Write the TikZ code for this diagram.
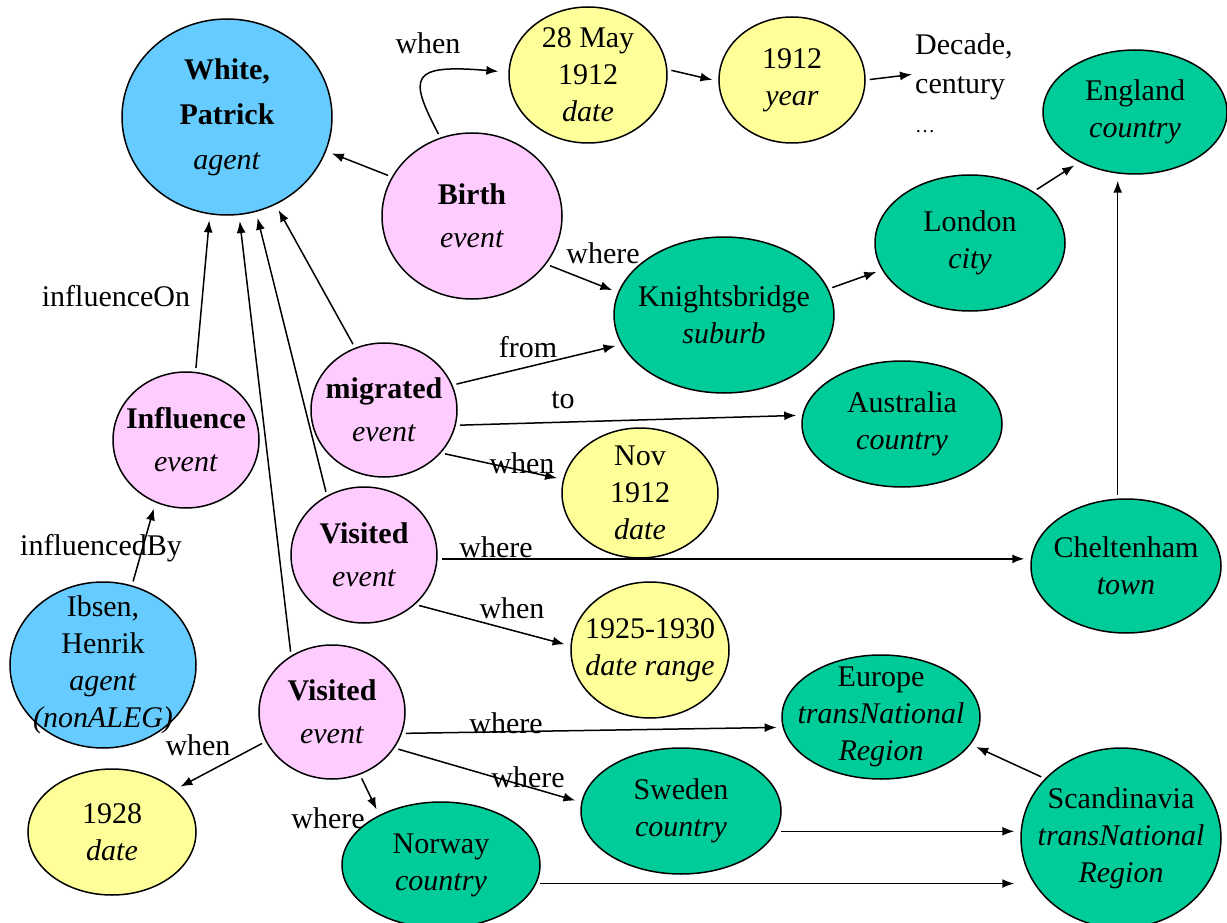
\documentclass[tikz,border=0pt]{standalone}
\usepackage{fontspec}
\setmainfont{Liberation Serif}
\usetikzlibrary{shapes.geometric,arrows.meta}
\definecolor{agentblue}{HTML}{66CCFF}
\definecolor{eventpink}{HTML}{FFCCFF}
\definecolor{dateyellow}{HTML}{FFFF99}
\definecolor{placegreen}{HTML}{00CC99}
\tikzset{
  blob/.style={ellipse,draw=black,line width=1.5pt,inner sep=-30pt,align=center,
    font=\fontsize{30}{37}\selectfont},
  agentnode/.style={blob,fill=agentblue},
  eventnode/.style={blob,fill=eventpink},
  datenode/.style={blob,fill=dateyellow},
  placenode/.style={blob,fill=placegreen},
  rel/.style={line width=1.5pt,-{Latex[length=12pt,width=9pt]},shorten <=4pt,shorten >=6pt},
  rellabel/.style={inner sep=1pt,font=\fontsize{30}{36}\selectfont}
}

\begin{document}
\begin{tikzpicture}[x=1pt,y=-1pt]
  \useasboundingbox[fill=white] (0,0) rectangle (1227,923);

  % people and events
  \node[agentnode,minimum width=210pt,minimum height=196pt] (white) at (227,117)
    {\textbf{White,}\\[8pt]\textbf{Patrick}\\[8pt]\textit{agent}};
  \node[eventnode,minimum width=180pt,minimum height=166pt] (birth) at (472,216)
    {\textbf{Birth}\\[6pt]\textit{event}};
  \node[eventnode,minimum width=146pt,minimum height=134pt] (migr) at (384,410)
    {\textbf{migrated}\\[6pt]\textit{event}};
  \node[eventnode,minimum width=146pt,minimum height=136pt] (influence) at (186,440)
    {\textbf{Influence}\\[6pt]\textit{event}};
  \node[eventnode,minimum width=146pt,minimum height=136pt] (visA) at (364,555)
    {\textbf{Visited}\\[6pt]\textit{event}};
  \node[eventnode,minimum width=146pt,minimum height=134pt] (visB) at (332,712)
    {\textbf{Visited}\\[6pt]\textit{event}};
  \node[agentnode,minimum width=186pt,minimum height=166pt] (ibsen) at (103,665)
    {Ibsen,\\Henrik\\\textit{agent}\\\textit{(nonALEG)}};

  % dates
  \node[datenode,minimum width=158pt,minimum height=136pt] (may) at (588,75)
    {28 May\\1912\\\textit{date}};
  \node[datenode,minimum width=146pt,minimum height=126pt] (year) at (792,80)
    {1912\\\textit{year}};
  \node[rellabel,anchor=west,align=left] (decade) at (914,83)
    {Decade,\\[3pt]century\\[3pt]{\fontsize{20}{24}\selectfont\ldots}};
  \node[datenode,minimum width=156pt,minimum height=130pt] (nov) at (640,493)
    {Nov\\1912\\\textit{date}};
  \node[datenode,minimum width=158pt,minimum height=136pt] (range) at (650,650)
    {1925-1930\\\textit{date range}};
  \node[datenode,minimum width=168pt,minimum height=126pt] (d1928) at (112,832)
    {1928\\\textit{date}};

  % places
  \node[placenode,minimum width=184pt,minimum height=124pt] (england) at (1135,112)
    {England\\\textit{country}};
  \node[placenode,minimum width=190pt,minimum height=136pt] (london) at (970,243)
    {London\\\textit{city}};
  \node[placenode,minimum width=220pt,minimum height=156pt] (knight) at (724,315)
    {Knightsbridge\\\textit{suburb}};
  \node[placenode,minimum width=200pt,minimum height=126pt] (austr) at (902,424)
    {Australia\\\textit{country}};
  \node[placenode,minimum width=190pt,minimum height=134pt] (chelt) at (1126,566)
    {Cheltenham\\\textit{town}};
  \node[placenode,minimum width=198pt,minimum height=124pt] (europe) at (881,717)
    {Europe\\\textit{transNational}\\\textit{Region}};
  \node[placenode,minimum width=200pt,minimum height=126pt] (sweden) at (681,811)
    {Sweden\\\textit{country}};
  \node[placenode,minimum width=198pt,minimum height=126pt] (norway) at (441,865)
    {Norway\\\textit{country}};
  \node[placenode,minimum width=200pt,minimum height=180pt] (scand) at (1121,838)
    {Scandinavia\\\textit{transNational}\\\textit{Region}};

  % relations
  \draw[rel] (birth.154) -- (white.-19);
  \draw[rel,shorten >=10pt] (birth.112) .. controls (408,76) and (410,64) .. (may.178);
  \draw[rel] (may.4) -- (year.181);
  \draw[rel,shorten >=2pt] (year.0) -- (decade.170);
  \draw[rel] (birth.-33) -- (knight.168);
  \draw[rel] (knight.14) -- (london.197);
  \draw[rel] (london.39) -- (england.222);
  \draw[rel] (chelt.97) -- (chelt.97 |- england.south);
  \draw[rel] (migr.115) -- (white.-61);
  \draw[rel] (migr.20) -- (knight.196);
  \draw[rel] (migr.-12) -- (austr.175);
  \draw[rel] (migr.-37) -- (nov.170);
  \draw[rel] (influence.82) -- (white.-100);
  \draw[rel] (ibsen.70) -- (influence.-116);
  \draw[rel] (visA.122) -- (white.-73);
  \draw[rel] (visA.-3) -- (visA.-3 -| chelt.west);
  \draw[rel] (visA.-44) -- (range.177);
  \draw[rel] (visB.126) -- (white.-83);
  \draw[rel] (visB.-17) -- (europe.186);
  \draw[rel] (visB.-30) -- (sweden.175);
  \draw[rel] (visB.-66) -- (norway.141);
  \draw[rel] (visB.204) -- (d1928.34);
  \draw[rel] (sweden.-12) -- (sweden.-12 -| scand.west);
  \draw[rel] (norway.-11) -- (norway.-11 -| scand.west);
  \draw[rel] (scand.142) -- (europe.-17);

  % relation names
  \node[rellabel] (lbirthwhen) at (428,43) {when};
  \node[rellabel] (lbirthwhere) at (603,253) {where};
  \node[rellabel] (lfrom) at (528,347) {from};
  \node[rellabel] (lto) at (563,400) {to};
  \node[rellabel] (lmigrwhen) at (522,463) {when};
  \node[rellabel] (linfon) at (116,296) {influenceOn};
  \node[rellabel] (linfby) at (101,548) {influencedBy};
  \node[rellabel] (lvisawhere) at (496,547) {where};
  \node[rellabel] (lvisawhen) at (512,608) {when};
  \node[rellabel] (leurope) at (506,723) {where};
  \node[rellabel] (lsweden) at (528,777) {where};
  \node[rellabel] (lnorway) at (328,818) {where};
  \node[rellabel] (lvisbwhen) at (198,745) {when};
\end{tikzpicture}
\end{document}
